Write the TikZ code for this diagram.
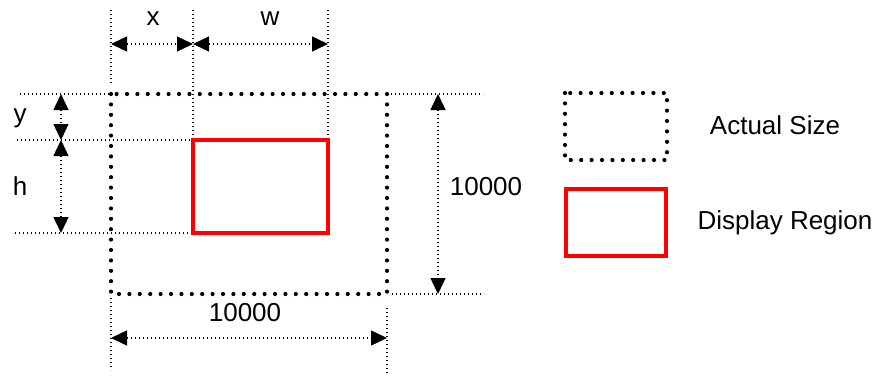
\documentclass[tikz,border=0pt]{standalone}
\usepackage{fontspec}
\setmainfont{Liberation Sans}
\usetikzlibrary{arrows.meta, positioning, calc}

\begin{document}
\begin{tikzpicture}[x=0.5pt, y=-0.5pt,
    bigdots/.style={line width=2.1pt, line cap=round, dash pattern=on 0pt off 5.2pt},
    thindots/.style={line width=0.7pt, dash pattern=on 0.7pt off 1.3pt},
    dimarrow/.style={thindots, {Triangle[length=8pt,width=7.5pt]}-{Triangle[length=8pt,width=7.5pt]}},
    region/.style={draw=red, line width=2.2pt},
    lbl/.style={font=\fontsize{13}{15}\selectfont, inner sep=0pt}]
    \useasboundingbox (0,0) rectangle (879,376);

    % Corners of the two regions
    \coordinate (act1) at (111,94);
    \coordinate (act2) at (387,294);
    \coordinate (disp1) at (193,140);
    \coordinate (disp2) at (328,233);

    % Extension lines
    \draw[thindots] (111,10) -- (111,84);
    \draw[thindots] (193,10) -- (disp1);
    \draw[thindots] (328,10) -- (328,138);
    \draw[thindots] (111,298) -- (111,370);
    \draw[thindots] (387,308) -- (387,374);
    \draw[thindots] (20,94) -- (act1);
    \draw[thindots] (387,94) -- (483,94);
    \draw[thindots] (17,140) -- (disp1);
    \draw[thindots] (15,233) -- (193,233);
    \draw[thindots] (392,294) -- (484,294);

    % Actual size and display region
    \draw[bigdots] (act1) rectangle (act2);
    \draw[region] (disp1) rectangle (disp2);

    % Dimension arrows
    \coordinate (xa) at (111,44);
    \coordinate (xb) at (193,44);
    \coordinate (wb) at (328,44);
    \coordinate (ya) at (61,94);
    \coordinate (yb) at (61,140);
    \coordinate (hb) at (61,233);
    \coordinate (ra) at (438,94);
    \coordinate (rb) at (438,294);
    \coordinate (ba) at (111,338);
    \coordinate (bb) at (387,338);
    \draw[dimarrow] (xa) -- (xb);
    \draw[dimarrow] (xb) -- (wb);
    \draw[dimarrow] (ya) -- (yb);
    \draw[dimarrow] (yb) -- (hb);
    \draw[dimarrow] (ra) -- (rb);
    \draw[dimarrow] (ba) -- (bb);

    \node[lbl] (xlbl) at (153,19) {x};
    \node[lbl] (wlbl) at (270,19) {w};
    \node[lbl] (ylbl) at (20,118) {y};
    \node[lbl] (hlbl) at (20,186) {h};
    \node[lbl] (rlbl) at (486,187) {10000};
    \node[lbl] (blbl) at (245,313) {10000};

    % Legend
    \coordinate (leg1) at (565,93);
    \coordinate (leg2) at (667,160);
    \coordinate (leg3) at (566,189);
    \coordinate (leg4) at (666,256);
    \draw[bigdots] (leg1) rectangle (leg2);
    \draw[region] (leg3) rectangle (leg4);
    \node[lbl] (actlbl) at (775,125) {Actual Size};
    \node[lbl] (displbl) at (785,223) {Display Region};
\end{tikzpicture}
\end{document}
